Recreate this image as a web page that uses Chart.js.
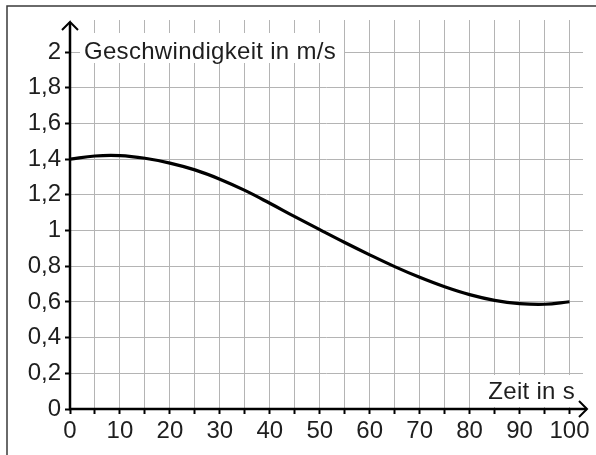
<!DOCTYPE html>
<html>
<head>
<meta charset="utf-8">
<script src="https://cdn.jsdelivr.net/npm/chart.js@4/dist/chart.umd.min.js"></script>
<style>
  html, body { margin: 0; padding: 0; background: #fff; }
  #wrap { width: 596px; height: 455px; position: relative; }
</style>
</head>
<body>
<div id="wrap"><canvas id="chart" width="596" height="455"></canvas></div>
<script>
// Zeit in s / Geschwindigkeit in m/s
const timeValues = [0, 5, 10, 15, 20, 25, 30, 35, 40, 45, 50, 55, 60, 65, 70, 75, 80, 85, 90, 95, 100];
const speedValues = [1.40, 1.418, 1.42, 1.405, 1.378, 1.340, 1.288, 1.225, 1.153, 1.078, 1.005,
                     0.933, 0.864, 0.798, 0.738, 0.685, 0.641, 0.609, 0.591, 0.587, 0.601];
const xTickLabels = [0, 10, 20, 30, 40, 50, 60, 70, 80, 90, 100];
const yTickLabels = ['0', '0,2', '0,4', '0,6', '0,8', '1', '1,2', '1,4', '1,6', '1,8', '2'];

const yAxisTitle = 'Geschwindigkeit in m/s';
const xAxisTitle = 'Zeit in s';

const FONT = '"Liberation Sans", Arial, sans-serif';
const textColor = '#1e1e1e';
const gridColor = '#b4b4b4';

// axes, arrows, titles, frame
const decorations = {
    id: 'decorations',
    beforeDatasetsDraw(chart) {
        const ctx = chart.ctx;
        ctx.save();
        ctx.font = '24px ' + FONT;
        ctx.letterSpacing = '0.3px';
        ctx.fillStyle = '#fff';
        ctx.fillRect(80, 33, 264, 30);
        ctx.fillRect(484, 375, 94, 32);
        ctx.fillStyle = textColor;
        ctx.textBaseline = 'alphabetic';
        ctx.textAlign = 'left';
        ctx.fillText(yAxisTitle, 84, 59);
        ctx.textAlign = 'right';
        ctx.fillText(xAxisTitle, 575, 399);
        ctx.restore();
    },
    afterDraw(chart) {
        const ctx = chart.ctx;
        const x = chart.scales.x, y = chart.scales.y;
        const x0 = x.getPixelForValue(0), y0 = y.getPixelForValue(0);
        ctx.save();
        ctx.strokeStyle = '#000';
        ctx.lineWidth = 2.5;
        ctx.lineCap = 'butt';
        ctx.beginPath();
        ctx.moveTo(x0, y0 + 1.25);
        ctx.lineTo(x0, 22);
        ctx.moveTo(x0 - 1.25, y0);
        ctx.lineTo(587, y0);
        ctx.stroke();
        // arrow heads
        ctx.lineWidth = 2;
        ctx.lineJoin = 'miter';
        ctx.beginPath();
        ctx.moveTo(x0 - 8, 30);
        ctx.lineTo(x0, 22);
        ctx.lineTo(x0 + 8, 30);
        ctx.moveTo(579, y0 - 8);
        ctx.lineTo(587, y0);
        ctx.lineTo(579, y0 + 8);
        ctx.stroke();
        // frame
        ctx.strokeStyle = '#3a3a3a';
        ctx.lineWidth = 1.5;
        ctx.strokeRect(7, 6, 620, 480);
        ctx.restore();
    }
};

// tick positions: every 5 s and every 0,2 m/s
function stepTicks(last, step) {
    const out = [];
    for (let i = 0; i * step <= last + 1e-9; i++) out.push({ value: +(i * step).toFixed(3) });
    return out;
}

new Chart(document.getElementById('chart'), {
    type: 'line',
    data: {
        labels: timeValues,
        datasets: [{
            data: timeValues.map((t, i) => ({ x: t, y: speedValues[i] })),
            borderColor: '#000',
            borderWidth: 3.2,
            pointRadius: 0,
            tension: 0.4,
            fill: false
        }]
    },
    options: {
        responsive: false,
        animation: false,
        events: [],
        layout: { padding: { top: 20, right: 13, left: 0, bottom: 0 } },
        plugins: { legend: { display: false }, tooltip: { enabled: false } },
        scales: {
            x: {
                type: 'linear',
                min: 0,
                max: 102.7,
                afterFit(scale) { scale.height = 46; },
                afterBuildTicks(scale) {
                    scale.ticks = stepTicks(xTickLabels[xTickLabels.length - 1], 5);
                },
                border: { display: false },
                grid: {
                    color: gridColor,
                    lineWidth: 1,
                    tickColor: '#000',
                    tickLength: 5,
                    tickWidth: 2
                },
                ticks: {
                    autoSkip: false,
                    maxRotation: 0,
                    padding: 3,
                    color: textColor,
                    font: { family: FONT, size: 24 },
                    callback(v) {
                        const r = Math.round(v);
                        return xTickLabels.includes(r) ? String(r) : '';
                    }
                }
            },
            y: {
                min: 0,
                max: 2.18,
                afterFit(scale) { scale.width = 70; },
                afterBuildTicks(scale) {
                    scale.ticks = stepTicks(2, 0.2);
                },
                border: { display: false },
                grid: {
                    color: gridColor,
                    lineWidth: 1,
                    tickColor: '#000',
                    tickLength: 5,
                    tickWidth: 2
                },
                ticks: {
                    autoSkip: false,
                    padding: 4,
                    color: textColor,
                    font: { family: FONT, size: 24 },
                    callback(v) {
                        const i = Math.round(v / 0.2);
                        return yTickLabels[i] !== undefined ? yTickLabels[i] : '';
                    }
                }
            }
        }
    },
    plugins: [decorations]
});
</script>
</body>
</html>
